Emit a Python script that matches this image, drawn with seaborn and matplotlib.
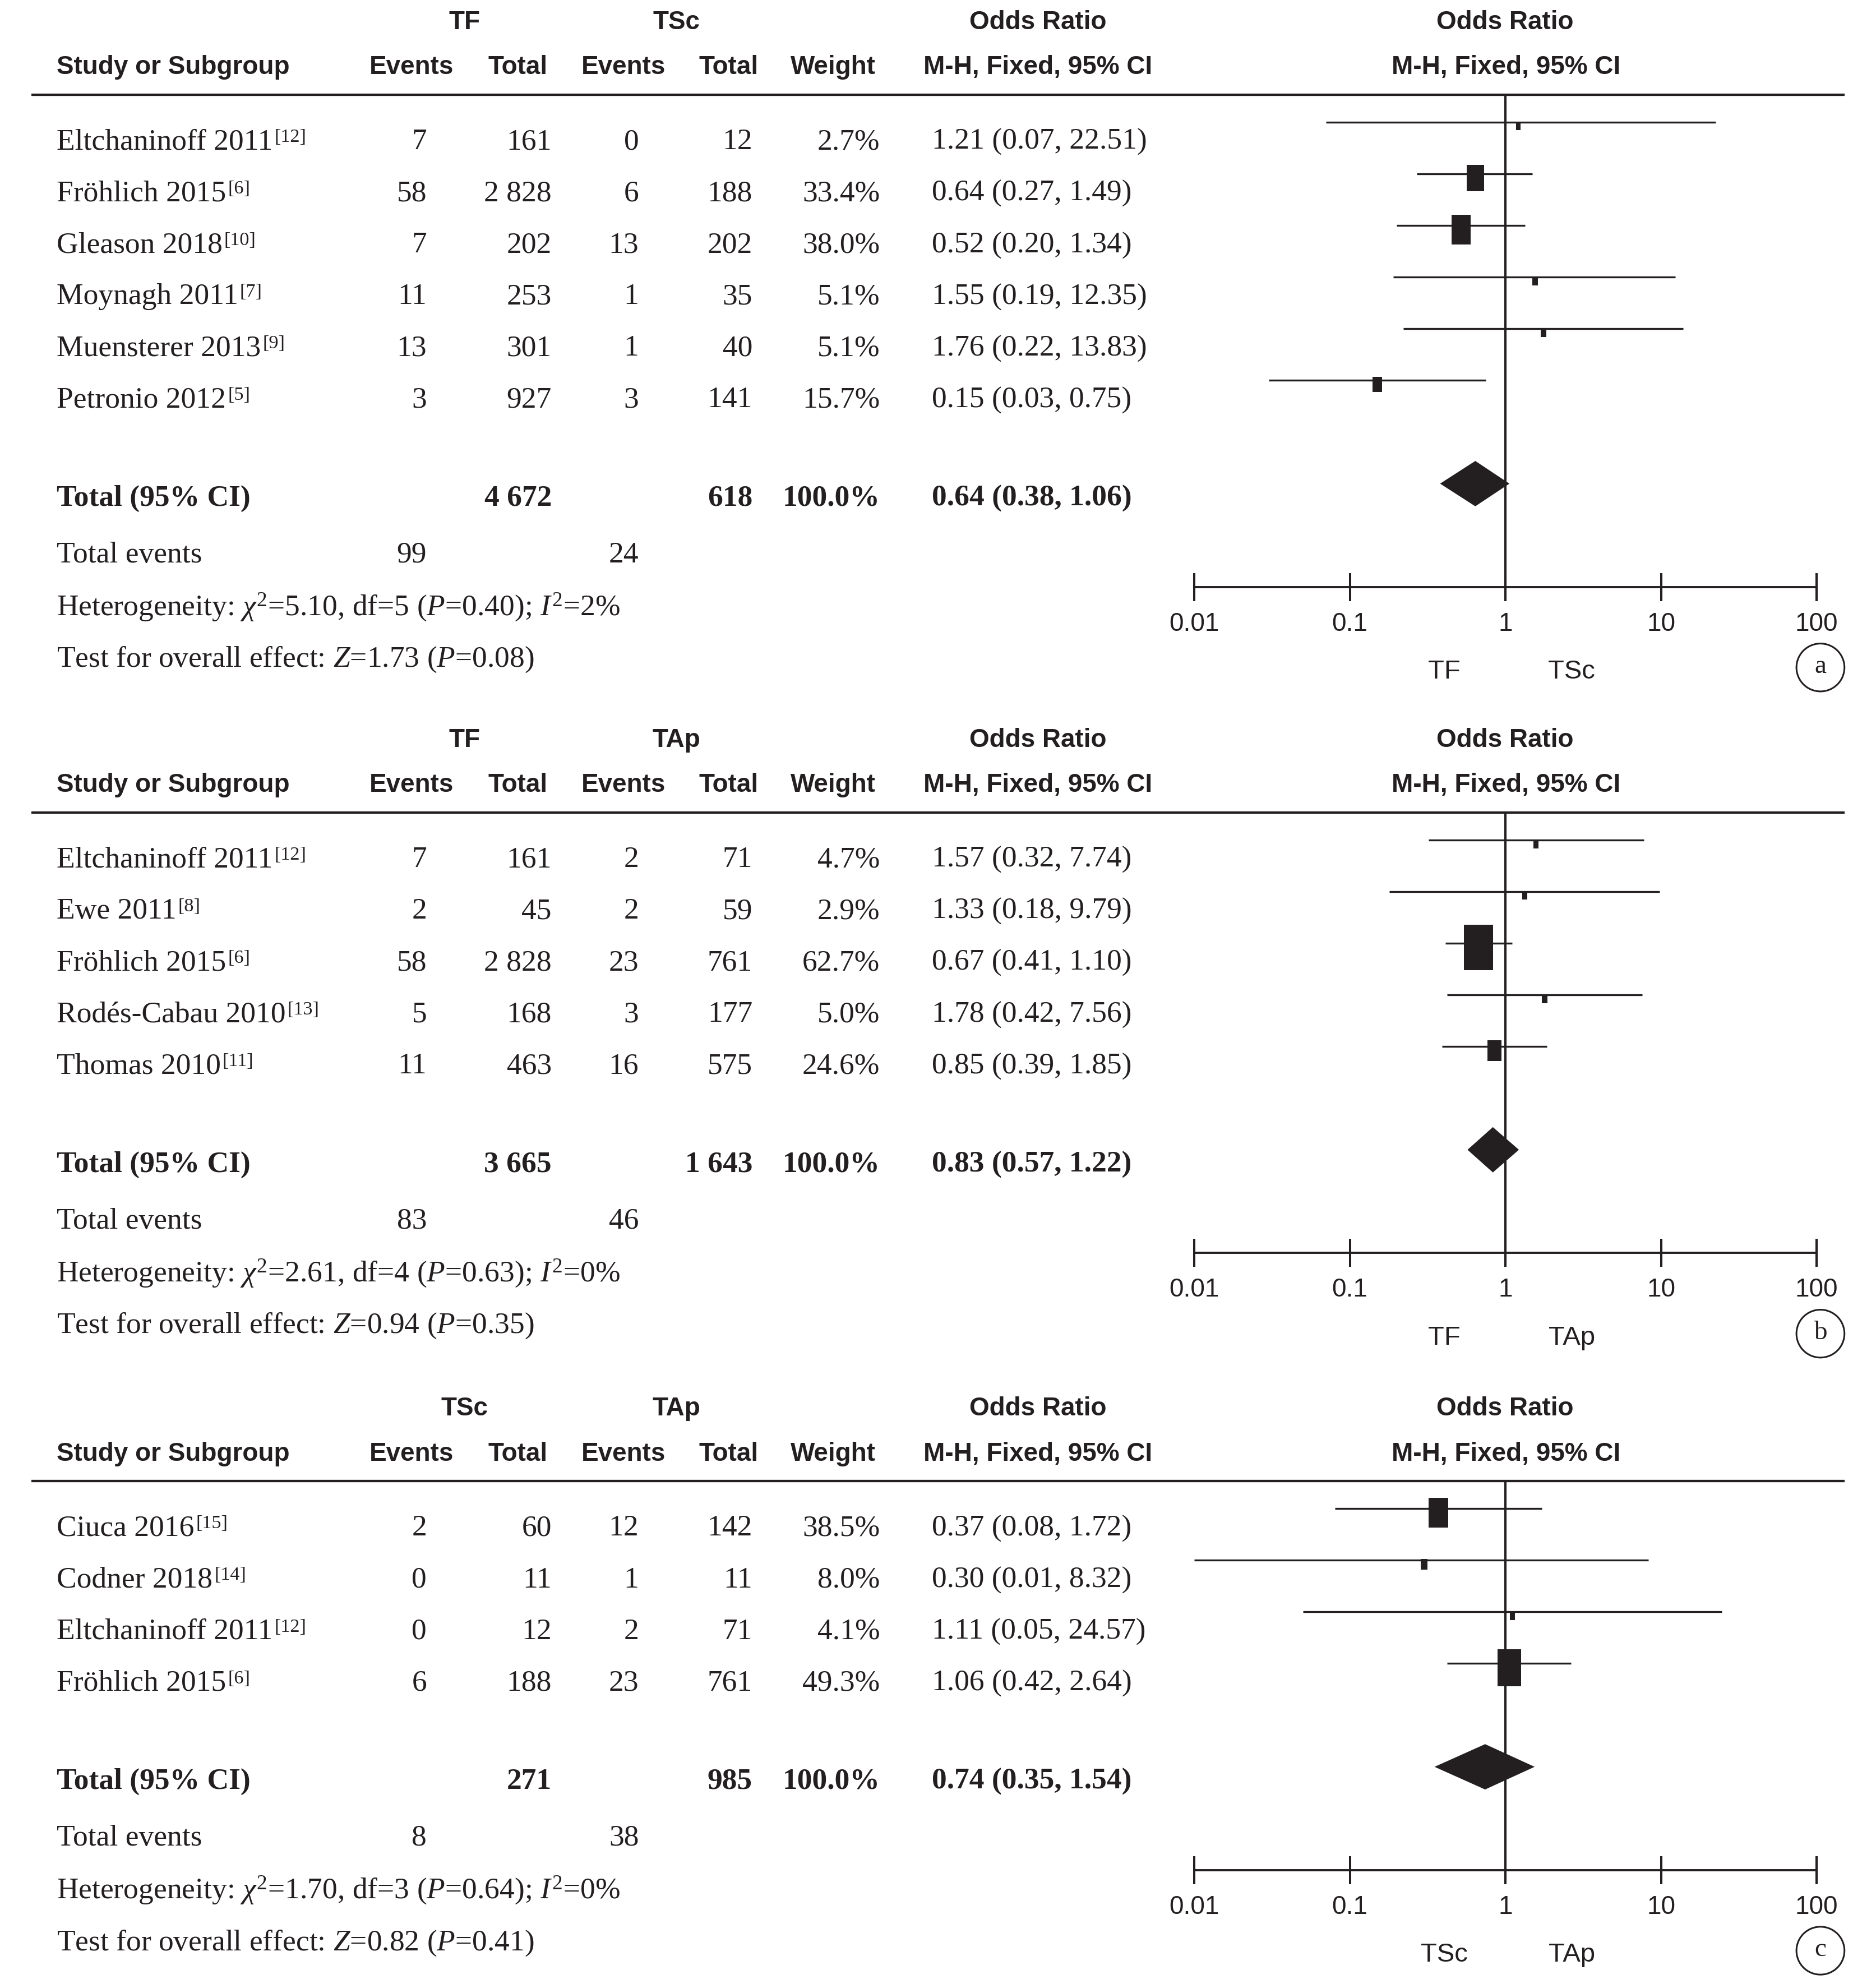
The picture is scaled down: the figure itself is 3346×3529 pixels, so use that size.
import numpy as np
import pandas as pd
import matplotlib
matplotlib.use('Agg')
import matplotlib.pyplot as plt
import seaborn as sns
from matplotlib import font_manager as fm
from matplotlib.patches import Circle
from matplotlib.ticker import NullLocator

# panel a: TF vs TSc
studies_a = ['Eltchaninoff 2011', 'Fröhlich 2015', 'Gleason 2018', 'Moynagh 2011', 'Muensterer 2013', 'Petronio 2012']
refs_a = ['12', '6', '10', '7', '9', '5']
ev1_a = [7, 58, 7, 11, 13, 3]
n1_a = [161, 2828, 202, 253, 301, 927]
ev2_a = [0, 6, 13, 1, 1, 3]
n2_a = [12, 188, 202, 35, 40, 141]
weight_a = [2.7, 33.4, 38.0, 5.1, 5.1, 15.7]
or_a = [1.21, 0.64, 0.52, 1.55, 1.76, 0.15]
lo_a = [0.07, 0.27, 0.20, 0.19, 0.22, 0.03]
hi_a = [22.51, 1.49, 1.34, 12.35, 13.83, 0.75]
total_a = [4672, 618, 0.64, 0.38, 1.06, 99, 24]
het_a = ['5.10', '5', '0.40', '2']
test_a = ['1.73', '0.08']

# panel b: TF vs TAp
studies_b = ['Eltchaninoff 2011', 'Ewe 2011', 'Fröhlich 2015', 'Rodés-Cabau 2010', 'Thomas 2010']
refs_b = ['12', '8', '6', '13', '11']
ev1_b = [7, 2, 58, 5, 11]
n1_b = [161, 45, 2828, 168, 463]
ev2_b = [2, 2, 23, 3, 16]
n2_b = [71, 59, 761, 177, 575]
weight_b = [4.7, 2.9, 62.7, 5.0, 24.6]
or_b = [1.57, 1.33, 0.67, 1.78, 0.85]
lo_b = [0.32, 0.18, 0.41, 0.42, 0.39]
hi_b = [7.74, 9.79, 1.10, 7.56, 1.85]
total_b = [3665, 1643, 0.83, 0.57, 1.22, 83, 46]
het_b = ['2.61', '4', '0.63', '0']
test_b = ['0.94', '0.35']

# panel c: TSc vs TAp
studies_c = ['Ciuca 2016', 'Codner 2018', 'Eltchaninoff 2011', 'Fröhlich 2015']
refs_c = ['15', '14', '12', '6']
ev1_c = [2, 0, 0, 6]
n1_c = [60, 11, 12, 188]
ev2_c = [12, 1, 2, 23]
n2_c = [142, 11, 71, 761]
weight_c = [38.5, 8.0, 4.1, 49.3]
or_c = [0.37, 0.30, 1.11, 1.06]
lo_c = [0.08, 0.01, 0.05, 0.42]
hi_c = [1.72, 8.32, 24.57, 2.64]
total_c = [271, 985, 0.74, 0.35, 1.54, 8, 38]
het_c = ['1.70', '3', '0.64', '0']
test_c = ['0.82', '0.41']

tick_vals = [0.01, 0.1, 1, 10, 100]
tick_labels = ['0.01', '0.1', '1', '10', '100']


def has_font(name):
    try:
        fm.findfont(fm.FontProperties(family=name), fallback_to_default=False)
        return True
    except ValueError:
        return False


sns.set_theme(style='white')
plt.rcParams['font.family'] = ['Liberation Serif', 'DejaVu Serif']
plt.rcParams['mathtext.fontset'] = 'custom'
plt.rcParams['mathtext.rm'] = 'Liberation Serif'
plt.rcParams['mathtext.it'] = 'Liberation Serif:italic'
plt.rcParams['mathtext.bf'] = 'Liberation Serif:bold'

if has_font('Liberation Sans Narrow'):
    SANS, SZ_H, SZ_T = 'Liberation Sans Narrow', 40, 40
else:
    SANS, SZ_H, SZ_T = 'Liberation Sans', 33, 33
SERIF = 'Liberation Serif'
SZ = 38.5
INK = '#231f20'

# layout units: the reference picture scaled down to about 1486 wide
W, H = 1486, 1572
X_EV1, X_N1, X_EV2, X_N2, X_W, X_OR = 338, 437, 506, 596, 697, 738
ROW = 41
RECT = [(-0.325, -0.5), (0.325, -0.5), (0.325, 0.5), (-0.325, 0.5), (-0.325, -0.5)]

fig = plt.figure(figsize=(33.46, 35.30), dpi=100)
tab = fig.add_axes([0, 0, 1, 1])
tab.set_xlim(0, W)
tab.set_ylim(H, 0)
tab.axis('off')


def fmt_n(n):
    return f'{n:,}'.replace(',', ' ')


def serif(x, y, s, ha='right', bold=False):
    return tab.text(x, y + 9, s, ha=ha, va='baseline', fontfamily=SERIF, fontsize=SZ,
                    fontweight='bold' if bold else 'normal', color=INK)


def head(x, y, s, ha='center'):
    tab.text(x, y + 9, s, ha=ha, va='baseline', fontfamily=SANS, fontsize=SZ_H,
             fontweight='bold', color=INK)


def draw_panel(top, g1, g2, letter, df, totals, het, test):
    line_y = top + 61.5
    rows = line_y + 34 + ROW * np.arange(len(df))
    total_y = rows[-1] + 78
    ev_y = total_y + 45
    het_y = ev_y + 42
    test_y = het_y + 41
    axis_y = test_y - 54

    # column headers
    head(368, top, g1)
    head(536, top, g2)
    head(822, top, 'Odds Ratio')
    head(1192, top, 'Odds Ratio')
    head(45, top + 36, 'Study or Subgroup', ha='left')
    head(326, top + 36, 'Events')
    head(410, top + 36, 'Total')
    head(494, top + 36, 'Events')
    head(577, top + 36, 'Total')
    head(660, top + 36, 'Weight')
    head(822, top + 36, 'M-H, Fixed, 95% CI')
    head(1193, top + 36, 'M-H, Fixed, 95% CI')
    tab.plot([25, 1461], [line_y, line_y], color=INK, lw=3.1, solid_capstyle='butt')

    # study rows, reference number as a small raised label after the name
    for y, r in zip(rows, df.itertuples()):
        t = serif(45, y, r.study, ha='left')
        tab.annotate(f'[{r.ref}]', xy=(1, 0), xycoords=t, xytext=(2, 0.45 * SZ),
                     textcoords='offset points', ha='left', va='baseline',
                     fontfamily=SERIF, fontsize=SZ * 0.64, color=INK)
        serif(X_EV1, y, str(r.ev1))
        serif(X_N1, y, fmt_n(r.n1))
        serif(X_EV2, y, str(r.ev2))
        serif(X_N2, y, fmt_n(r.n2))
        serif(X_W, y, f'{r.weight:.1f}%')
        serif(X_OR, y, f'{r.OR:.2f} ({r.lo:.2f}, {r.hi:.2f})', ha='left')

    n1_tot, n2_tot, or_tot, lo_tot, hi_tot, e1_tot, e2_tot = totals
    serif(45, total_y, 'Total (95% CI)', ha='left', bold=True)
    serif(X_N1, total_y, fmt_n(n1_tot), bold=True)
    serif(X_N2, total_y, fmt_n(n2_tot), bold=True)
    serif(X_W, total_y, '100.0%', bold=True)
    serif(X_OR, total_y, f'{or_tot:.2f} ({lo_tot:.2f}, {hi_tot:.2f})', ha='left', bold=True)
    serif(45, ev_y, 'Total events', ha='left')
    serif(X_EV1, ev_y, str(e1_tot))
    serif(X_EV2, ev_y, str(e2_tot))
    chi, dof, p, i2 = het
    serif(45, het_y, f'Heterogeneity: $\\chi^2$={chi}, df={dof} ($P$={p}); $I^2$={i2}%', ha='left')
    serif(45, test_y, f'Test for overall effect: $Z$={test[0]} ($P$={test[1]})', ha='left')

    # forest plot on log scale
    left, right = 946 / W, 1439 / W
    ax = fig.add_axes([left, 1 - axis_y / H, right - left, (axis_y - line_y) / H])
    ax.set_xscale('log')
    ax.set_xlim(0.01, 100)
    ax.set_ylim(axis_y, line_y)
    ax.patch.set_alpha(0)
    line_rows = rows - 12
    ax.hlines(line_rows, df['lo'], df['hi'], color=INK, lw=2.4)
    h_pt = (10 + 1.12 * df['weight']) * 0.72
    sns.scatterplot(x=df['OR'], y=line_rows + 3.3, s=h_pt ** 2, marker=RECT, color=INK,
                    linewidth=0, ax=ax, legend=False, zorder=3)
    dy = total_y - 8
    ax.fill([lo_tot, or_tot, hi_tot, or_tot], [dy, dy - 18, dy, dy + 18], color=INK, lw=0, zorder=3)
    ax.axvline(1, color=INK, lw=2.9)
    for s in ['left', 'right', 'top']:
        ax.spines[s].set_visible(False)
    ax.spines['bottom'].set_linewidth(2.8)
    ax.spines['bottom'].set_color(INK)
    ax.set_xticks(tick_vals)
    ax.set_xticklabels(tick_labels, fontfamily=SANS, fontsize=SZ_T, color=INK)
    ax.xaxis.set_minor_locator(NullLocator())
    ax.tick_params(axis='x', direction='inout', length=36, width=2.9, color=INK, pad=13, bottom=True)
    ax.set_yticks([])
    ax.set_xlabel('')
    ax.set_ylabel('')

    tab.text(1144, axis_y + 67, g1, ha='center', va='center', fontfamily=SANS, fontsize=SZ_T + 1, color=INK)
    tab.text(1245, axis_y + 67, g2, ha='center', va='center', fontfamily=SANS, fontsize=SZ_T + 1, color=INK)
    tab.add_patch(Circle((1442, axis_y + 64), 19, fill=False, ec=INK, lw=2.2))
    tab.text(1442, axis_y + 63, letter, ha='center', va='center', fontfamily=SERIF, fontsize=34, color=INK)


def make_df(studies, refs, ev1, n1, ev2, n2, weight, ors, lo, hi):
    return pd.DataFrame({'study': studies, 'ref': refs, 'ev1': ev1, 'n1': n1, 'ev2': ev2,
                         'n2': n2, 'weight': weight, 'OR': ors, 'lo': lo, 'hi': hi})


df_a = make_df(studies_a, refs_a, ev1_a, n1_a, ev2_a, n2_a, weight_a, or_a, lo_a, hi_a)
df_b = make_df(studies_b, refs_b, ev1_b, n1_b, ev2_b, n2_b, weight_b, or_b, lo_b, hi_b)
df_c = make_df(studies_c, refs_c, ev1_c, n1_c, ev2_c, n2_c, weight_c, or_c, lo_c, hi_c)

draw_panel(14, 'TF', 'TSc', 'a', df_a, total_a, het_a, test_a)
draw_panel(584, 'TF', 'TAp', 'b', df_b, total_b, het_b, test_b)
draw_panel(1115, 'TSc', 'TAp', 'c', df_c, total_c, het_c, test_c)

fig.savefig('out.png', dpi=100, facecolor='white')
